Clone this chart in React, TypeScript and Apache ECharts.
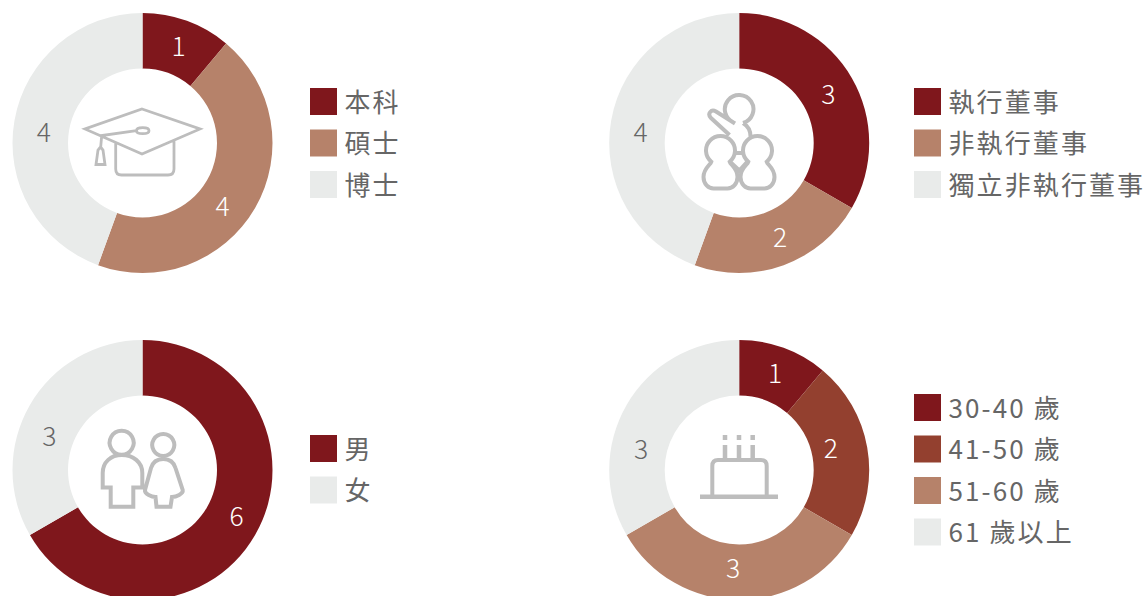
import React, { useEffect, useRef } from "react";
import * as echarts from "echarts";

const DARK = "#7f171c";
const MID = "#93402f";
const TAN = "#b6826a";
const LIGHT = "#e9ebea";
const TEXT = "#666666";
const ICON = "#bdbdbd";
const FONT = '"Noto Sans CJK TC", "Noto Sans", sans-serif';

const educationNames = ["本科", "碩士", "博士"];
const educationValues = [1, 4, 4];
const educationColors = [DARK, TAN, LIGHT];
const educationNudges = [[0, 0], [-11, 9], [5, 6]];

const boardNames = ["執行董事", "非執行董事", "獨立非執行董事"];
const boardValues = [3, 2, 4];
const boardColors = [DARK, TAN, LIGHT];
const boardNudges = [[-2, 2], [5, -6], [5, 6]];

const genderNames = ["男", "女"];
const genderValues = [6, 3];
const genderColors = [DARK, LIGHT];
const genderNudges = [[3, -8], [-2, 17]];

const ageNames = ["30-40 歲", "41-50 歲", "51-60 歲", "61 歲以上"];
const ageValues = [1, 2, 3, 3];
const ageColors = [DARK, MID, TAN, LIGHT];
const ageNudges = [[0, 0], [-12, -5], [-6, -9], [-7, 30]];

const capPath =
  "M142 109 L200 129 L142 154 L85 129 Z " +
  "M136.5 130.7 L101.7 135.5 L100.7 147 " +
  "M136.5 130.7 C136.5 128.7 139 127.7 142.7 127.7 C146.5 127.7 149 128.7 149 130.7 C149 132.7 146.5 133.7 142.7 133.7 C139 133.7 136.5 132.7 136.5 130.7 Z " +
  "M100.5 147 L103 150 L105 164.5 L96 164.5 L98 150 Z " +
  "M115.7 143 L115.7 169 Q115.7 175 121.5 175 L168 175 Q174 175 174 169 L174 141";

const snowman = (cx: number) =>
  `M${cx - 9.2} 161.7 A14.5 14.5 0 1 1 ${cx + 9.2} 161.7 ` +
  `C${cx + 10} 165 ${cx + 17} 168 ${cx + 17} 177 C${cx + 17} 184 ${cx + 12} 188.5 ${cx + 7} 188.5 ` +
  `L${cx - 7} 188.5 C${cx - 12} 188.5 ${cx - 17} 184 ${cx - 17} 177 C${cx - 17} 168 ${cx - 10} 165 ${cx - 9.2} 161.7 Z `;

const boardPath =
  snowman(720.5) +
  snowman(757.5) +
  "M733.8 122.5 A14.3 14.3 0 1 1 743 123 " +
  "M735 123.5 L716 111.5 C711 108.5 707 114 711 118 L729.5 135 " +
  "M743 123 C748 126 750.5 130 750.5 136.5 " +
  "M735 153 L744 153 M730 161.7 L739.3 170.5 L747.5 161.7";

const genderPath =
  "M121.7 430.7 A12 12 0 1 1 121.6 430.7 Z " +
  "M102.7 487.5 L102.7 473 C102.7 462 111 455 121.7 455 C133 455 142.3 462 142.3 473 L142.3 487.5 L133.3 487.5 L133.3 506.7 L110.7 506.7 L110.7 487.5 Z " +
  "M163.3 434 A11 11 0 1 1 163.2 434 Z " +
  "M163.3 459 C156 459 152.5 463 151 468 L145 490 C144.3 494 152 497 155.5 497 L156.5 506.7 L170.5 506.7 L172 497 C176 497 183.5 494 182.7 490 L175.5 468 C174 463 170.5 459 163.3 459 Z";

const cakeBodyPath = "M712.3 495 L712.3 466 Q712.3 460 718 460 L761 460 Q766.7 460 766.7 466 L766.7 495";
const candlePath = "M725 445 L725 460 M739 445 L739 460 M752.7 445 L752.7 460 M725 435 L725 440 M739 435 L739 440 M752.7 435 L752.7 440 M700 496.7 L778 496.7";

echarts.graphic.registerShape("capIcon", echarts.graphic.extendPath(capPath, {}));
echarts.graphic.registerShape("boardIcon", echarts.graphic.extendPath(boardPath, {}));
echarts.graphic.registerShape("genderIcon", echarts.graphic.extendPath(genderPath, {}));
echarts.graphic.registerShape("cakeBodyIcon", echarts.graphic.extendPath(cakeBodyPath, {}));
echarts.graphic.registerShape("candleIcon", echarts.graphic.extendPath(candlePath, {}));

const pie = (center: number[], names: string[], values: number[], colors: string[], nudges: number[][]) => ({
  type: "pie",
  center,
  radius: [74.5, 130],
  startAngle: 90,
  clockwise: true,
  silent: true,
  minAngle: 0,
  label: { show: true, position: "inside", formatter: "{c}", fontSize: 26.5, fontFamily: FONT, fontWeight: 300 },
  labelLine: { show: false },
  labelLayout: (p: any) => ({ dx: nudges[p.dataIndex][0], dy: nudges[p.dataIndex][1] }),
  emphasis: { disabled: true },
  data: names.map((name, i) => ({
    name,
    value: values[i],
    itemStyle: { color: colors[i] },
    label: { color: colors[i] === LIGHT ? TEXT : "#ffffff" },
  })),
});

const legend = (left: number, top: number, names: string[]) => ({
  left,
  top,
  orient: "vertical",
  padding: 0,
  itemWidth: 27,
  itemHeight: 27,
  itemGap: 14.5,
  icon: "rect",
  selectedMode: false,
  data: names,
  textStyle: { color: TEXT, fontSize: 26, fontFamily: FONT, fontWeight: 400, padding: [0, 0, 0, 3] },
});

const icon = (type: string, lineWidth = 3) => ({
  type,
  x: 0,
  y: 0,
  silent: true,
  style: { fill: "none", stroke: ICON, lineWidth },
});

export default function App() {
  const ref = useRef<HTMLDivElement>(null);
  useEffect(() => {
    const chart = echarts.init(ref.current!, undefined, { renderer: "svg" });
    chart.setOption({
      animation: false,
      backgroundColor: "#ffffff",
      legend: [
        legend(310, 88, educationNames),
        legend(914, 88, boardNames),
        legend(310, 435, genderNames),
        legend(914, 394, ageNames),
      ],
      series: [
        pie([142.5, 143], educationNames, educationValues, educationColors, educationNudges),
        pie([739.2, 143], boardNames, boardValues, boardColors, boardNudges),
        pie([142.5, 470], genderNames, genderValues, genderColors, genderNudges),
        pie([739.2, 470], ageNames, ageValues, ageColors, ageNudges),
      ],
      graphic: [
        icon("capIcon", 2.8),
        icon("boardIcon", 4),
        icon("genderIcon", 4),
        icon("cakeBodyIcon", 4),
        icon("candleIcon", 4.5),
      ],
    });
    return () => chart.dispose();
  }, []);
  return (
    <>
      <style>{`text[style*="26px"]{letter-spacing:2.1px;translate:-0.5px -1.5px}`}</style>
      <div ref={ref} style={{ position: "absolute", left: 0, top: 0, width: 1147, height: 596 }} />
    </>
  );
}
